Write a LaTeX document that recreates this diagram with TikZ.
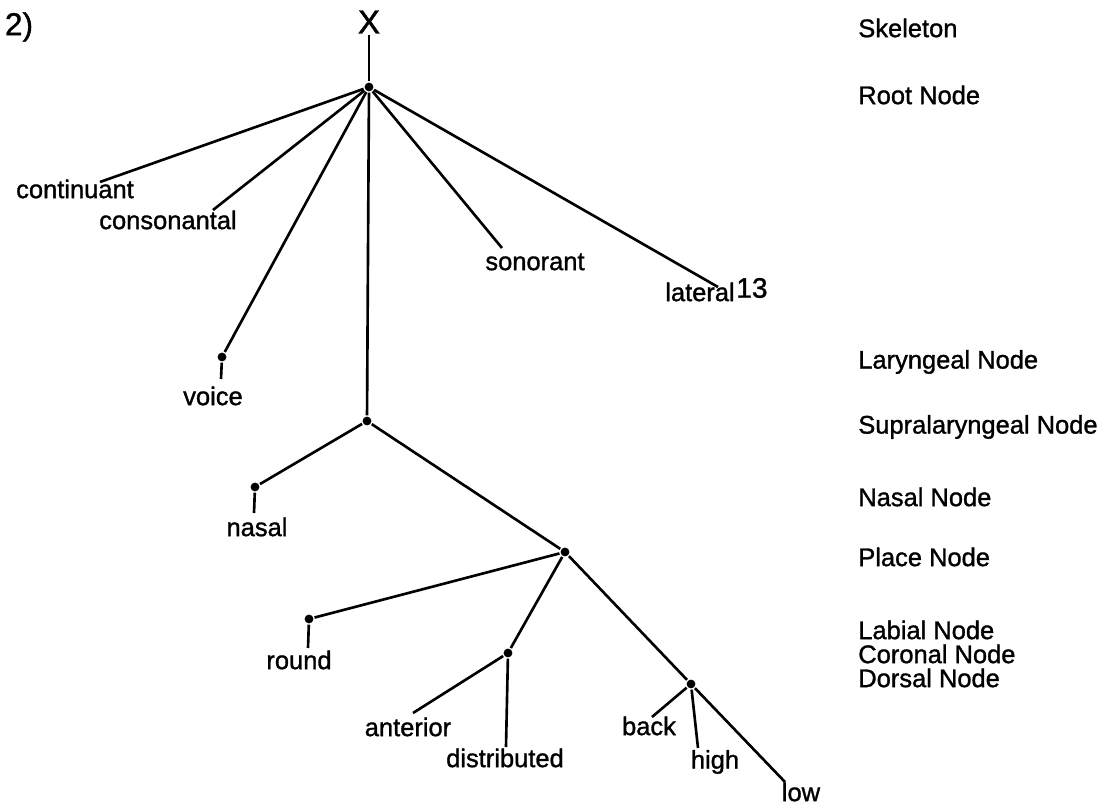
\documentclass[tikz,border=0pt]{standalone}
\usepackage{fontspec}
\setmainfont[FakeBold=1.2,AutoFakeBold=1.2]{Liberation Sans}
\begin{document}
\begin{tikzpicture}[x=0.02cm,y=-0.02cm,line width=1.5pt,
  dot/.style={circle,fill,inner sep=0pt,minimum size=5pt},
  lbl/.style={font=\fontsize{14.5}{16}\selectfont\bfseries,inner sep=0pt},
  tier/.style={lbl,anchor=west}]
\useasboundingbox (0,0) rectangle (1107,804);

% example number and skeleton slot
\node[font=\fontsize{18}{20}\selectfont\bfseries,inner sep=0pt] (num) at (19,27) {2)};
\node[font=\fontsize{19}{21}\selectfont\bfseries,inner sep=0pt] (x) at (369,22) {X};

% class nodes
\node[dot] (root)  at (369,87)  {};
\node[dot] (lar)   at (222,357) {};
\node[dot] (supra) at (367,421) {};
\node[dot] (nas)   at (255,487) {};
\node[dot] (place) at (565,552) {};
\node[dot] (lab)   at (309,619) {};
\node[dot] (cor)   at (508,653) {};
\node[dot] (dor)   at (691,684) {};

% feature labels
\node[lbl] (cont) at (75,189)  {continuant};
\node[lbl] (cons) at (168,220) {consonantal};
\node[lbl] (son)  at (535,262) {sonorant};
\node[lbl] (lat)  at (700,292) {lateral};
\node[font=\fontsize{16}{18}\selectfont\bfseries,inner sep=0pt,anchor=west] (fn) at (735,288) {13};
\node[lbl] (voi)  at (213,396) {voice};
\node[lbl] (nsl)  at (257,527) {nasal};
\node[lbl] (rnd)  at (299,660) {round};
\node[lbl] (ant)  at (408,727) {anterior};
\node[lbl] (dist) at (505,758) {distributed};
\node[lbl] (bck)  at (649,726) {back};
\node[lbl] (hgh)  at (715,762) {high};
\node[lbl] (lw)   at (801,792) {low};

% ends of the feature lines
\coordinate (contE) at (100,182);
\coordinate (consE) at (213,210);
\coordinate (sonE)  at (502,248);
\coordinate (latE)  at (718,287);
\coordinate (voiE)  at (221,379);
\coordinate (nasE)  at (254,513);
\coordinate (labE)  at (308,648);
\coordinate (antE)  at (413,713);
\coordinate (distE) at (506,747);
\coordinate (backE) at (652,717);
\coordinate (highE) at (698,748);
\coordinate (lowE)  at (785,782);

% tree
\draw (x.south) -- (root);
\draw (root) -- (contE);
\draw (root) -- (consE);
\draw (root) -- (sonE);
\draw (root) -- (latE);
\draw (root) -- (lar);
\draw (lar) -- (voiE);
\draw (root) -- (supra);
\draw (supra) -- (nas);
\draw (nas) -- (nasE);
\draw (supra) -- (place);
\draw (place) -- (lab);
\draw (lab) -- (labE);
\draw (place) -- (cor);
\draw (cor) -- (antE);
\draw (cor) -- (distE);
\draw (place) -- (dor);
\draw (dor) -- (backE);
\draw (dor) -- (highE);
\draw (dor) -- (lowE);

% tier names
\node[tier] (t1) at (857,28)  {Skeleton};
\node[tier] (t2) at (857,95)  {Root Node};
\node[tier] (t3) at (857,362) {Laryngeal Node};
\node[tier] (t4) at (857,427) {Supralaryngeal Node};
\node[tier] (t5) at (857,497) {Nasal Node};
\node[tier] (t6) at (857,557) {Place Node};
\node[tier] (t7) at (857,630) {Labial Node};
\node[tier] (t8) at (857,654) {Coronal Node};
\node[tier] (t9) at (857,678) {Dorsal Node};
\end{tikzpicture}
\end{document}
